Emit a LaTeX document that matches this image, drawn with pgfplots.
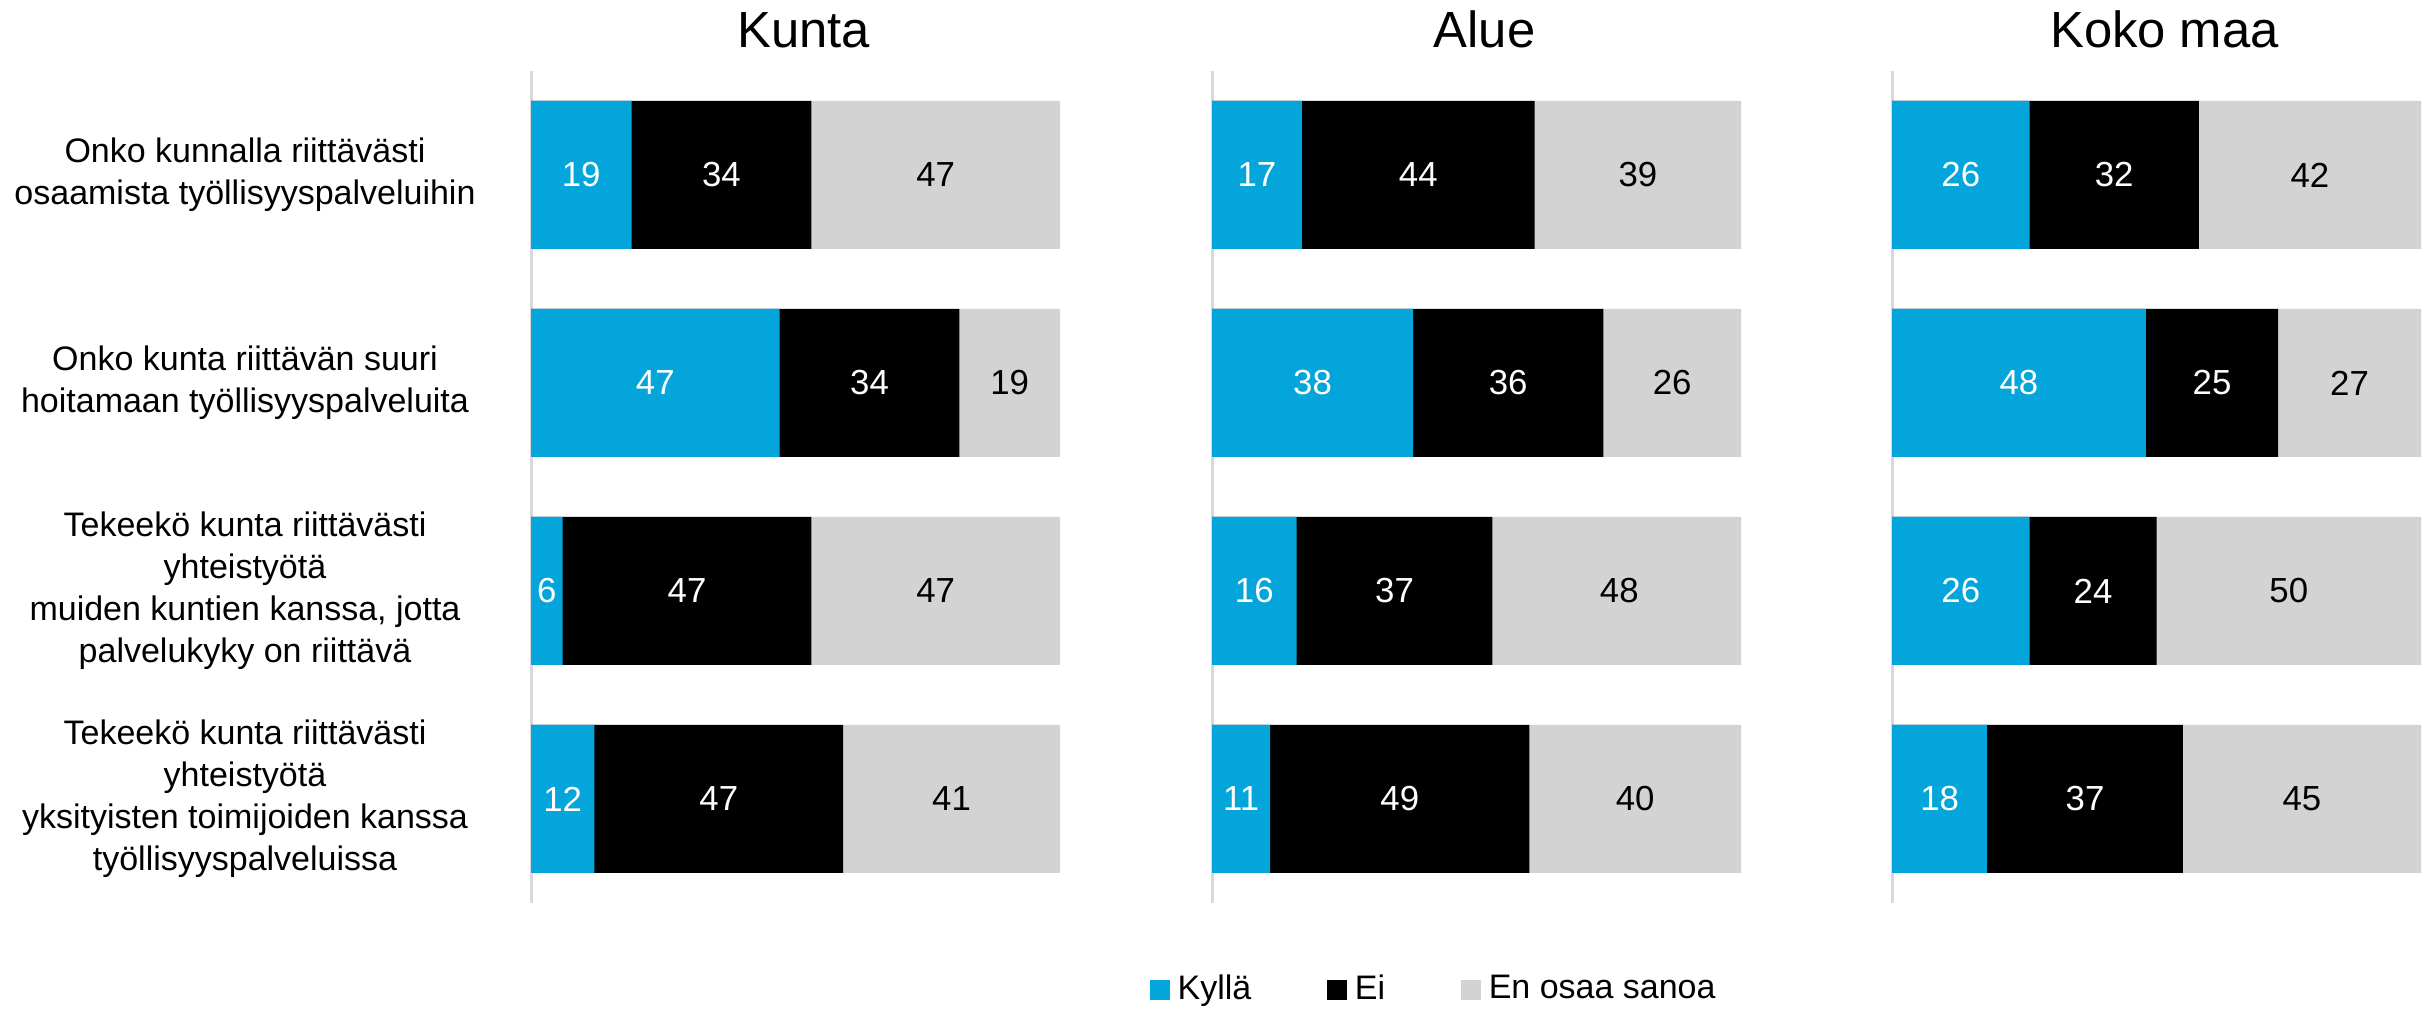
\documentclass[border=0pt]{standalone}
\usepackage{pgfplots}
\pgfplotsset{compat=1.18}
\usepackage{pgfplotstable}
\usepackage{fontspec}
\setmainfont{Liberation Sans}
\definecolor{kblue}{RGB}{3,165,218}
\definecolor{kgray}{RGB}{211,211,211}
\definecolor{axgray}{RGB}{217,217,217}

\pgfplotstableread{
y k e n
0 19 34 47
1 47 34 19
2 6 47 47
3 12 47 41
}\kunta
\pgfplotstableread{
y k e n
0 17 44 39
1 38 36 26
2 16 37 48
3 11 49 40
}\alue
\pgfplotstableread{
y k e n
0 26 32 42
1 48 25 27
2 26 24 50
3 18 37 45
}\koko

\pgfplotsset{
  panel/.style={
    scale only axis, width=132.25pt, height=208pt, anchor=north west,
    xmin=0, xmax=100, ymin=-0.5, ymax=3.5, y dir=reverse,
    axis x line=none, axis y line*=left,
    y axis line style={draw=axgray, line width=0.75pt},
    ytick={0,1,2,3}, major tick length=0pt, yticklabels={},
    bar width=37pt, bar shift=0pt,
    /pgf/number format/assume math mode=true,
    title style={font=\fontsize{12.7}{15}\selectfont, at={(0.5,1)}, anchor=base, yshift=-0.25pt, xshift=2pt},
  },
  vlab/.style={draw=none, mark=none, forget plot, nodes near coords, nodes near coords align=center,
    point meta=explicit,
    every node near coord/.append style={font=\fontsize{8.7}{10}\selectfont, text=#1, anchor=center}},
  bgray/.style={xbar, fill=kgray, draw=none, forget plot},
  bblack/.style={xbar, fill=black, draw=none, forget plot},
  bblue/.style={xbar, fill=kblue, draw=none, forget plot},
}

\newcommand{\panelplots}[1]{%
  \addplot[bgray] table[x expr=\thisrow{k}+\thisrow{e}+\thisrow{n}, y=y]{#1};
  \addplot[bblack] table[x expr=\thisrow{k}+\thisrow{e}, y=y]{#1};
  \addplot[bblue] table[x=k, y=y]{#1};
  \addplot[vlab=white] table[x expr=\thisrow{k}/2, y=y, meta=k]{#1};
  \addplot[vlab=white] table[x expr=\thisrow{k}+\thisrow{e}/2, y=y, meta=e]{#1};
  \addplot[vlab=black] table[x expr=\thisrow{k}+\thisrow{e}+\thisrow{n}/2, y=y, meta=n]{#1};
}

\begin{document}
\begin{tikzpicture}
\useasboundingbox (0,0) rectangle (608.25pt,253pt);

\begin{axis}[panel, at={(132.75pt,235.25pt)}, title={Kunta},
  yticklabels={
    {Onko kunnalla riittävästi\\osaamista työllisyyspalveluihin},
    {Onko kunta riittävän suuri\\hoitamaan työllisyyspalveluita},
    {Tekeekö kunta riittävästi\\yhteistyötä\\muiden kuntien kanssa, jotta\\palvelukyky on riittävä},
    {Tekeekö kunta riittävästi\\yhteistyötä\\yksityisten toimijoiden kanssa\\työllisyyspalveluissa}},
  yticklabel style={anchor=center, xshift=-71.5pt, align=center, font=\fontsize{8.5}{10.5}\selectfont},
]
\panelplots{\kunta}
\end{axis}

\begin{axis}[panel, at={(303pt,235.25pt)}, title={Alue},
  legend columns=3,
  legend cell align=left,
  legend style={at={(0.425,-0.1046)}, anchor=center, draw=none, fill=none,
    font=\fontsize{8.5}{10}\selectfont, inner sep=0pt,
    /tikz/every even column/.append style={column sep=17pt}},
]
\panelplots{\alue}
\addlegendimage{legend image code/.code={\fill[kblue] (0pt,-2.25pt) rectangle (4.5pt,2.25pt);}}
\addlegendentry{Kyllä}
\addlegendimage{legend image code/.code={\fill[black] (0pt,-2.25pt) rectangle (4.5pt,2.25pt);}}
\addlegendentry{Ei}
\addlegendimage{legend image code/.code={\fill[kgray] (0pt,-2.25pt) rectangle (4.5pt,2.25pt);}}
\addlegendentry{En osaa sanoa}
\end{axis}

\begin{axis}[panel, at={(473pt,235.25pt)}, title={Koko maa}]
\panelplots{\koko}
\end{axis}
\end{tikzpicture}
\end{document}
